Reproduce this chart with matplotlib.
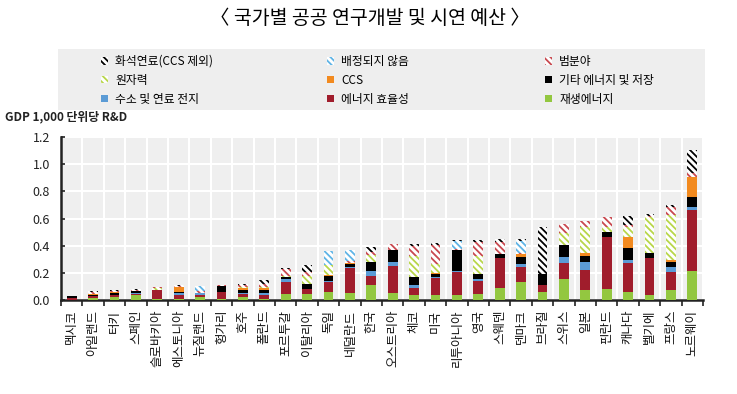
import matplotlib
matplotlib.use("Agg")
import matplotlib.pyplot as plt
import numpy as np
from matplotlib.patches import Rectangle, Patch

plt.rcParams['font.family'] = ['Noto Sans CJK KR', 'DejaVu Sans']
plt.rcParams['hatch.linewidth'] = 1.3

countries = ["멕시코", "아일랜드", "터키", "스페인", "슬로바키아", "에스토니아", "뉴질랜드", "헝가리",
             "호주", "폴란드", "포르투갈", "이탈리아", "독일", "네덜란드", "한국", "오스트리아", "체코",
             "미국", "리투아니아", "영국", "스웨덴", "덴마크", "브라질", "스위스", "일본", "핀란드",
             "캐나다", "벨기에", "프랑스", "노르웨이"]

renewable = [0.003, 0.015, 0.02, 0.035, 0.005, 0.01, 0.025, 0.008, 0.025, 0.01, 0.042, 0.042, 0.061, 0.054, 0.11,
             0.054, 0.037, 0.037, 0.037, 0.045, 0.086, 0.135, 0.061, 0.154, 0.074, 0.079, 0.061, 0.037, 0.074, 0.216]
efficiency = [0.012, 0.012, 0.015, 0.01, 0.065, 0.03, 0.015, 0.053, 0.02, 0.03, 0.093, 0.037, 0.069, 0.179, 0.069,
              0.196, 0.055, 0.125, 0.17, 0.095, 0.22, 0.11, 0.05, 0.116, 0.146, 0.387, 0.213, 0.269, 0.134, 0.446]
hydrogen = [0, 0.003, 0, 0.005, 0, 0.01, 0.008, 0, 0.01, 0.01, 0.017, 0.005, 0.012, 0.01, 0.034,
            0.027, 0.018, 0.005, 0.01, 0.015, 0.005, 0.02, 0, 0.044, 0.062, 0, 0.02, 0, 0.037, 0.024]
other_storage = [0.012, 0.006, 0.015, 0.015, 0, 0.01, 0.007, 0.045, 0.02, 0.025, 0.018, 0.036, 0.037, 0.025, 0.064,
                 0.091, 0.061, 0.025, 0.15, 0.035, 0.027, 0.053, 0.08, 0.09, 0.042, 0.036, 0.091, 0.042, 0.035, 0.074]
ccs = [0, 0.008, 0.008, 0, 0, 0.035, 0, 0, 0.01, 0.01, 0, 0, 0.005, 0.005, 0,
       0, 0, 0.005, 0, 0.005, 0, 0.02, 0, 0, 0.024, 0, 0.076, 0, 0.015, 0.146]
nuclear = [0, 0, 0, 0, 0.02, 0, 0, 0, 0.01, 0.01, 0.01, 0.056, 0.073, 0, 0.054,
           0, 0.155, 0.069, 0, 0.13, 0, 0, 0, 0.086, 0.191, 0.036, 0.073, 0.264, 0.331, 0]
cross_cutting = [0, 0.012, 0.01, 0.008, 0.005, 0.01, 0.01, 0.004, 0.012, 0.025, 0.05, 0.03, 0, 0.015, 0.02,
                 0.042, 0.075, 0.14, 0.01, 0.1, 0.09, 0.01, 0.003, 0.066, 0.044, 0.07, 0.017, 0.01, 0.06, 0.029]
unallocated = [0, 0, 0, 0, 0, 0, 0.035, 0, 0, 0, 0, 0, 0.106, 0.08, 0,
               0, 0, 0, 0.06, 0, 0, 0.09, 0, 0, 0, 0, 0, 0, 0, 0]
fossil = [0.005, 0.008, 0.006, 0.007, 0, 0.005, 0.005, 0, 0.013, 0.025, 0.007, 0.05, 0, 0.003, 0.036,
          0, 0.011, 0.011, 0.004, 0.02, 0.02, 0.01, 0.34, 0, 0, 0, 0.069, 0.01, 0.012, 0.172]

# (label, values, color, hatched) in stacking order bottom -> top
series = [
    ("재생에너지", renewable, "#93c740", False),
    ("에너지 효율성", efficiency, "#a01d2c", False),
    ("수소 및 연료 전지", hydrogen, "#5b9bd5", False),
    ("기타 에너지 및 저장", other_storage, "#000000", False),
    ("CCS", ccs, "#f28a1f", False),
    ("원자력", nuclear, "#b8d64a", True),
    ("범분야", cross_cutting, "#c8494f", True),
    ("배정되지 않음", unallocated, "#5fb4e6", True),
    ("화석연료(CCS 제외)", fossil, "#000000", True),
]

W, H = 737, 394
fig = plt.figure(figsize=(W / 100, H / 100), dpi=100)
ax = fig.add_axes([61 / W, 1 - 300 / H, 642 / W, 163 / H])
ax.set_facecolor("#efefef")

HATCH = "\\" * 5
x = np.arange(len(countries))
bottom = np.zeros(len(countries))
handles = {}
for label, vals, color, hatched in series:
    vals = np.array(vals, dtype=float)
    if hatched:
        ax.bar(x, vals, width=0.46, bottom=bottom, facecolor="white", edgecolor=color,
               hatch=HATCH, linewidth=0, zorder=3)
        handles[label] = Patch(facecolor="white", edgecolor=color, hatch=HATCH, linewidth=0, label=label)
    else:
        ax.bar(x, vals, width=0.46, bottom=bottom, color=color, linewidth=0, zorder=3)
        handles[label] = Patch(facecolor=color, edgecolor=color, linewidth=0, label=label)
    bottom += vals

ax.set_xlim(-0.5, len(countries) - 0.5)
ax.set_ylim(0, 1.2)
ax.set_yticks(np.arange(0, 1.21, 0.2))
ax.set_yticklabels([f"{v:.1f}" for v in np.arange(0, 1.21, 0.2)], fontsize=9, color="#222222")
ax.set_xticks(x)
ax.set_xticklabels(countries, rotation=90, fontsize=9, color="#111111")
ax.set_xticks(np.arange(-0.5, len(countries), 1), minor=True)
ax.tick_params(axis="x", which="major", length=0, pad=7)
ax.tick_params(axis="x", which="minor", length=4, width=1.2, direction="out", color="#222222")
ax.tick_params(axis="y", length=3, width=1.2, direction="in", color="#222222", pad=8)

ax.grid(True, axis="y", which="major", color="white", linewidth=1.5, zorder=1)
ax.grid(True, axis="x", which="minor", color="white", linewidth=1.5, zorder=1)
ax.grid(False, axis="x", which="major")
ax.set_axisbelow(True)

for side in ["top", "right"]:
    ax.spines[side].set_visible(False)
for side in ["left", "bottom"]:
    ax.spines[side].set_linewidth(1.8)
    ax.spines[side].set_color("#222222")

# Title
fig.text(0.502, 1 - 18 / H, "〈 국가별 공공 연구개발 및 시연 예산 〉", ha="center", va="center", fontsize=14)

# y-axis unit label
fig.text(5 / W, 1 - 117 / H, "GDP 1,000 단위당 R&D", ha="left", va="center", fontsize=8.5,
         fontweight="bold", color="#222222")

# Legend background
fig.patches.append(Rectangle((58 / W, 1 - 110 / H), (705 - 58) / W, 61 / H, transform=fig.transFigure,
                             facecolor="#eeeeee", edgecolor="none", zorder=0))

cols = [
    ["화석연료(CCS 제외)", "원자력", "수소 및 연료 전지"],
    ["배정되지 않음", "CCS", "에너지 효율성"],
    ["범분야", "기타 에너지 및 저장", "재생에너지"],
]
col_x = [101, 327, 545]
for cx, names in zip(col_x, cols):
    fig.legend(handles=[handles[n] for n in names], loc="upper left",
               bbox_to_anchor=(cx / W, 1 - 55 / H), frameon=False, fontsize=8.5,
               handlelength=0.6, handleheight=0.6, handletextpad=0.6, labelspacing=0.5,
               borderaxespad=0, borderpad=0)

fig.savefig("out.png", dpi=100)
